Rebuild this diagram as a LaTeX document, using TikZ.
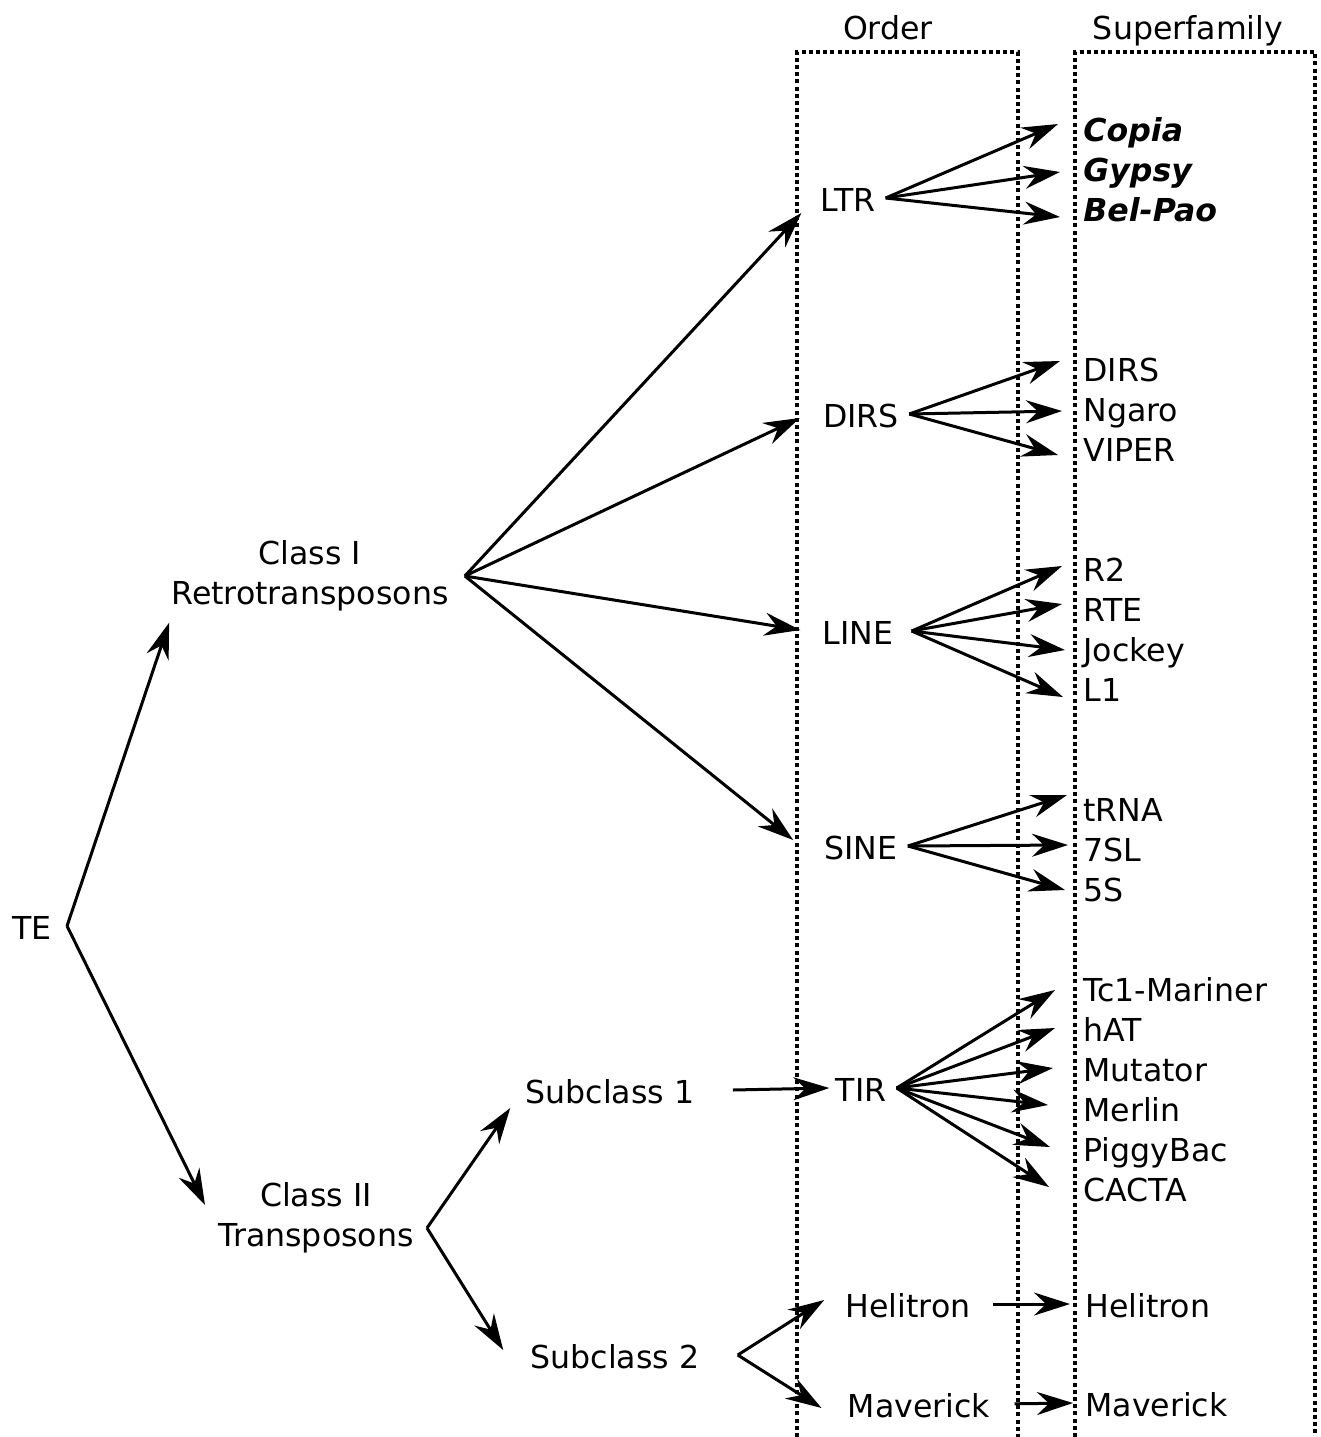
\documentclass[tikz,border=0pt]{standalone}
\usepackage{fontspec}
\setmainfont{DejaVu Sans}
\usetikzlibrary{arrows.meta}
\tikzset{
    lbl/.style = {inner sep=0pt, text height=13.4pt, text depth=0pt},
    order/.style = {lbl, inner xsep=5pt},
    subclass/.style = {lbl, inner xsep=19pt},
    family/.style = {lbl, anchor=west},
    group/.style = {align=center, inner ysep=0pt, inner xsep=8pt},
    arr/.style = {-{Stealth[length=18pt, width=11.5pt, inset=6pt]}, line width=1.5pt},
    column/.style = {line width=1.6pt, dash pattern=on 2pt off 1.6pt},
}

\begin{document}
\begin{tikzpicture}[x=0.5pt, y=-0.5pt, font=\fontsize{15.8}{20}\selectfont]
\useasboundingbox (0,0) rectangle (1321,1437);

% columns
\draw[column] (797,1437) -- (797,52) -- (1018,52) -- (1018,1437);
\draw[column] (1075,1437) -- (1075,52) -- (1315,52) -- (1315,1437);
\node[lbl] (order-title) at (888,26) {Order};
\node[lbl] (family-title) at (1188,26) {Superfamily};

% classes
\node[lbl, inner xsep=7.5pt] (te) at (32,926) {TE};
\node[group] (class1) at (310,576) {Class I\\Retrotransposons};
\node[group] (class2) at (316,1218) {Class II\\Transposons};
\node[subclass] (sub1) at (610,1090) {Subclass 1};
\node[subclass] (sub2) at (615,1355) {Subclass 2};

% orders
\node[order] (o-ltr) at (848,198) {LTR};
\node[order] (o-dirs) at (861,414) {DIRS};
\node[order] (o-line) at (858,631) {LINE};
\node[order] (o-sine) at (861,846) {SINE};
\node[order] (o-tir) at (861,1088) {TIR};
\node[order] (o-heli) at (908,1304) {Helitron};
\node[order] (o-mav) at (919,1404) {Maverick};

% superfamilies
\node[family] (f-copia) at (1083,128) {\bfseries\itshape Copia};
\node[family] (f-gypsy) at (1083,168) {\bfseries\itshape Gypsy};
\node[family] (f-belpao) at (1083,208) {\bfseries\itshape Bel-Pao};
\node[family] (f-dirs) at (1083,368) {DIRS};
\node[family] (f-ngaro) at (1083,408) {Ngaro};
\node[family] (f-viper) at (1083,448) {VIPER};
\node[family] (f-r2) at (1083,568) {R2};
\node[family] (f-rte) at (1083,608) {RTE};
\node[family] (f-jockey) at (1083,648) {Jockey};
\node[family] (f-l1) at (1083,688) {L1};
\node[family] (f-trna) at (1083,808) {tRNA};
\node[family] (f-7sl) at (1083,848) {7SL};
\node[family] (f-5s) at (1083,888) {5S};
\node[family] (f-tc1) at (1083,988) {Tc1-Mariner};
\node[family] (f-hat) at (1083,1028) {hAT};
\node[family] (f-mutator) at (1083,1068) {Mutator};
\node[family] (f-merlin) at (1083,1108) {Merlin};
\node[family] (f-piggybac) at (1083,1148) {PiggyBac};
\node[family] (f-cacta) at (1083,1188) {CACTA};
\node[family] (f-heli) at (1085,1304) {Helitron};
\node[family] (f-mav) at (1085,1403) {Maverick};

% class level
\draw[arr] (te.east) -- ([xshift=7pt,yshift=-5.5pt]class1.south west);
\draw[arr] (te.east) -- ([xshift=1.5pt,yshift=6.5pt]class2.west);
\draw[arr] ([xshift=-1.5pt,yshift=-5pt]class2.east) -- ([xshift=11.5pt,yshift=-9pt]sub1.west);
\draw[arr] ([xshift=-1.5pt,yshift=-5pt]class2.east) -- ([xshift=5.5pt,yshift=2.5pt]sub2.west);

% order level
\draw[arr] (class1.east) -- ([xshift=-4.5pt,yshift=-7.5pt]o-ltr.west);
\draw[arr] (class1.east) -- ([xshift=-6.5pt,yshift=-2pt]o-dirs.west);
\draw[arr] (class1.east) -- ([xshift=-6pt,yshift=0.5pt]o-line.west);
\draw[arr] (class1.east) -- ([xshift=-10.5pt,yshift=3pt]o-sine.west);
\draw[arr] (sub1.east) -- ([xshift=2pt]o-tir.west);
\draw[arr] (sub2.east) -- ([xshift=-5.5pt,yshift=2pt]o-heli.west);
\draw[arr] (sub2.east) -- ([xshift=-8pt,yshift=-2pt]o-mav.west);

% superfamily level
\foreach \f/\dx/\dy in {copia/-12.5/2, gypsy/-11.5/-2, belpao/-11.5/-4.5}
    \draw[arr] (o-ltr.east) -- ([xshift=\dx pt,yshift=\dy pt]f-\f.west);
\foreach \f/\dx/\dy in {dirs/-11.5/3.5, ngaro/-10.5/-1.5, viper/-12.5/-3.5}
    \draw[arr] (o-dirs.east) -- ([xshift=\dx pt,yshift=\dy pt]f-\f.west);
\foreach \f/\dx/\dy in {r2/-10.5/1, rte/-10.5/2, jockey/-9/-1, l1/-10/-4.5}
    \draw[arr] ([xshift=4pt]o-line.east) -- ([xshift=\dx pt,yshift=\dy pt]f-\f.west);
\foreach \f/\dx/\dy in {trna/-8/6.5, 7sl/-7.5/1.5, 5s/-9/-1}
    \draw[arr] (o-sine.east) -- ([xshift=\dx pt,yshift=\dy pt]f-\f.west);
\foreach \f/\dx/\dy in {tc1/-14/-1, hat/-14/0, mutator/-15/0, merlin/-17.5/1.5, piggybac/-16.5/0.5, cacta/-17/0.5}
    \draw[arr] (o-tir.east) -- ([xshift=\dx pt,yshift=\dy pt]f-\f.west);
\draw[arr, shorten <=6pt] (o-heli.east) -- ([xshift=-7.5pt]f-heli.west);
\draw[arr, shorten <=7pt] (o-mav.east) -- ([xshift=-6pt]f-mav.west);
\end{tikzpicture}
\end{document}
